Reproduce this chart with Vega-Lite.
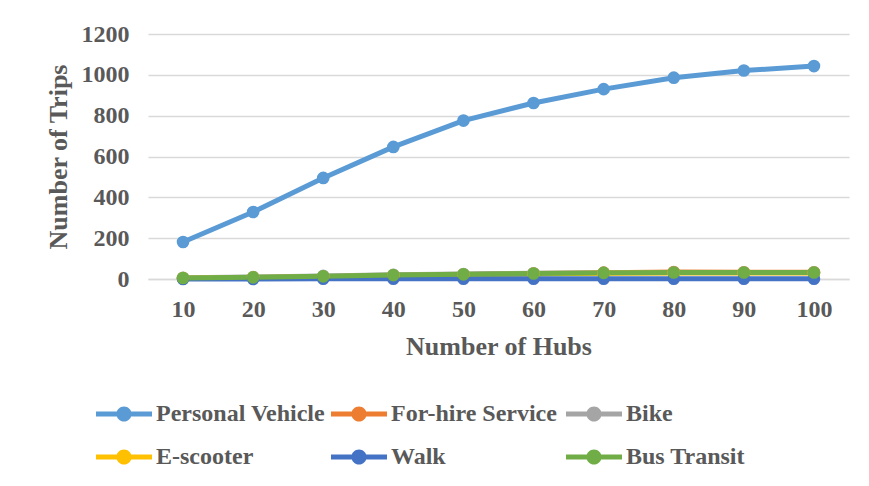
{
  "$schema": "https://vega.github.io/schema/vega-lite/v6.json",
  "width": 701,
  "height": 245,
  "autosize": {"type": "none"},
  "padding": {"left": 148, "top": 34, "right": 20, "bottom": 207},
  "background": "white",
  "datasets": {
    "trips": [
      {"mode": "Personal Vehicle", "hubs": 10, "trips": 181},
      {"mode": "Personal Vehicle", "hubs": 20, "trips": 328},
      {"mode": "Personal Vehicle", "hubs": 30, "trips": 495},
      {"mode": "Personal Vehicle", "hubs": 40, "trips": 647},
      {"mode": "Personal Vehicle", "hubs": 50, "trips": 776},
      {"mode": "Personal Vehicle", "hubs": 60, "trips": 862},
      {"mode": "Personal Vehicle", "hubs": 70, "trips": 930},
      {"mode": "Personal Vehicle", "hubs": 80, "trips": 986},
      {"mode": "Personal Vehicle", "hubs": 90, "trips": 1021},
      {"mode": "Personal Vehicle", "hubs": 100, "trips": 1043},
      {"mode": "For-hire Service", "hubs": 10, "trips": 3},
      {"mode": "For-hire Service", "hubs": 20, "trips": 6},
      {"mode": "For-hire Service", "hubs": 30, "trips": 10},
      {"mode": "For-hire Service", "hubs": 40, "trips": 16},
      {"mode": "For-hire Service", "hubs": 50, "trips": 22},
      {"mode": "For-hire Service", "hubs": 60, "trips": 27},
      {"mode": "For-hire Service", "hubs": 70, "trips": 31},
      {"mode": "For-hire Service", "hubs": 80, "trips": 34},
      {"mode": "For-hire Service", "hubs": 90, "trips": 33},
      {"mode": "For-hire Service", "hubs": 100, "trips": 33},
      {"mode": "Bike", "hubs": 10, "trips": 6},
      {"mode": "Bike", "hubs": 20, "trips": 10},
      {"mode": "Bike", "hubs": 30, "trips": 15},
      {"mode": "Bike", "hubs": 40, "trips": 21},
      {"mode": "Bike", "hubs": 50, "trips": 24},
      {"mode": "Bike", "hubs": 60, "trips": 28},
      {"mode": "Bike", "hubs": 70, "trips": 30},
      {"mode": "Bike", "hubs": 80, "trips": 31},
      {"mode": "Bike", "hubs": 90, "trips": 31},
      {"mode": "Bike", "hubs": 100, "trips": 31},
      {"mode": "E-scooter", "hubs": 10, "trips": 4},
      {"mode": "E-scooter", "hubs": 20, "trips": 7},
      {"mode": "E-scooter", "hubs": 30, "trips": 11},
      {"mode": "E-scooter", "hubs": 40, "trips": 17},
      {"mode": "E-scooter", "hubs": 50, "trips": 21},
      {"mode": "E-scooter", "hubs": 60, "trips": 25},
      {"mode": "E-scooter", "hubs": 70, "trips": 28},
      {"mode": "E-scooter", "hubs": 80, "trips": 29},
      {"mode": "E-scooter", "hubs": 90, "trips": 29},
      {"mode": "E-scooter", "hubs": 100, "trips": 29},
      {"mode": "Walk", "hubs": 10, "trips": 0},
      {"mode": "Walk", "hubs": 20, "trips": 0},
      {"mode": "Walk", "hubs": 30, "trips": 1},
      {"mode": "Walk", "hubs": 40, "trips": 1},
      {"mode": "Walk", "hubs": 50, "trips": 1},
      {"mode": "Walk", "hubs": 60, "trips": 1},
      {"mode": "Walk", "hubs": 70, "trips": 1},
      {"mode": "Walk", "hubs": 80, "trips": 1},
      {"mode": "Walk", "hubs": 90, "trips": 1},
      {"mode": "Walk", "hubs": 100, "trips": 1},
      {"mode": "Bus Transit", "hubs": 10, "trips": 5},
      {"mode": "Bus Transit", "hubs": 20, "trips": 8},
      {"mode": "Bus Transit", "hubs": 30, "trips": 13},
      {"mode": "Bus Transit", "hubs": 40, "trips": 19},
      {"mode": "Bus Transit", "hubs": 50, "trips": 23},
      {"mode": "Bus Transit", "hubs": 60, "trips": 27},
      {"mode": "Bus Transit", "hubs": 70, "trips": 30},
      {"mode": "Bus Transit", "hubs": 80, "trips": 32},
      {"mode": "Bus Transit", "hubs": 90, "trips": 32},
      {"mode": "Bus Transit", "hubs": 100, "trips": 32}
    ]
  },
  "data": {"name": "trips"},
  "mark": {
    "type": "line",
    "strokeWidth": 5,
    "strokeCap": "round",
    "strokeJoin": "round",
    "point": {"filled": true, "size": 160, "opacity": 1}
  },
  "encoding": {
    "x": {
      "field": "hubs",
      "type": "ordinal",
      "scale": {"type": "point", "padding": 0.5},
      "sort": null,
      "axis": {
        "title": "Number of Hubs",
        "labelAngle": 0,
        "ticks": false,
        "grid": false,
        "domain": true,
        "domainColor": "#D9D9D9",
        "domainWidth": 1.5,
        "labelPadding": 18,
        "titlePadding": 12
      }
    },
    "y": {
      "field": "trips",
      "type": "quantitative",
      "scale": {"domain": [0, 1200], "nice": false},
      "axis": {
        "title": "Number of Trips",
        "values": [0, 200, 400, 600, 800, 1000, 1200],
        "format": "d",
        "ticks": false,
        "domain": false,
        "grid": true,
        "gridColor": "#D9D9D9",
        "gridWidth": 1.5,
        "labelPadding": 19,
        "titlePadding": 10
      }
    },
    "color": {
      "field": "mode",
      "type": "nominal",
      "sort": null,
      "scale": {
        "domain": ["Personal Vehicle", "For-hire Service", "Bike", "E-scooter", "Walk", "Bus Transit"],
        "range": ["#5B9BD5", "#ED7D31", "#A5A5A5", "#FFC000", "#4472C4", "#70AD47"]
      },
      "legend": {
        "title": null,
        "orient": "none",
        "direction": "horizontal",
        "legendX": -52,
        "legendY": 352,
        "columns": 3,
        "gridAlign": "all",
        "columnPadding": 5,
        "rowPadding": 3,
        "symbolType": "M-1,-0.09L1,-0.09L1,0.09L-1,0.09Z M0.27,0A0.27,0.27,0,1,1,-0.27,0A0.27,0.27,0,1,1,0.27,0Z",
        "symbolSize": 3136,
        "symbolStrokeWidth": 0,
        "symbolOpacity": 1,
        "labelOffset": 4,
        "labelFont": "Liberation Serif",
        "labelFontWeight": "bold",
        "labelFontSize": 24,
        "labelColor": "#595959",
        "labelLimit": 400,
        "encode": {
          "symbols": {
            "update": {
              "fill": {"scale": "color", "field": "value"},
              "stroke": {"value": "transparent"}
            }
          }
        }
      }
    }
  },
  "config": {
    "view": {"stroke": null},
    "axis": {
      "labelFont": "Liberation Serif",
      "labelFontWeight": "bold",
      "labelFontSize": 24,
      "labelColor": "#595959",
      "titleFont": "Liberation Serif",
      "titleFontWeight": "bold",
      "titleFontSize": 26,
      "titleColor": "#595959"
    }
  }
}
